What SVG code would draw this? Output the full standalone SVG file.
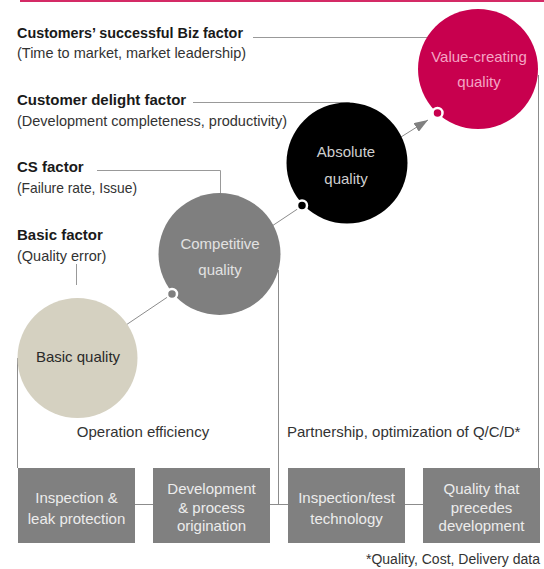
<svg xmlns="http://www.w3.org/2000/svg" width="544" height="569" viewBox="0 0 544 569">
<defs>
<style>
text{font-family:"Liberation Sans",Arial,sans-serif}
.h{font-weight:bold;font-size:15px;fill:#1a1a1a}
.s{font-size:14.5px;fill:#333}
.c{font-size:15px;text-anchor:middle}
.b{font-size:15px;fill:#ececec;text-anchor:middle}
.m{font-size:15px;fill:#333}
.ln{fill:none;stroke:#8c8c8c;stroke-width:1}
.lbl{fill:none;stroke:#999;stroke-width:1}
.box{fill:#808080}
</style>
<marker id="ah" viewBox="0 0 14 10" refX="14" refY="5" markerWidth="14" markerHeight="10" markerUnits="userSpaceOnUse" orient="auto">
<path d="M0,0 L14,5 L0,10 z" fill="#808080"/>
</marker>
</defs>
<rect x="20" y="0" width="524" height="2" fill="#d42a66"/>

<g id="connectors">
<polyline class="lbl" points="253,37.5 478,37.5"/>
<polyline class="lbl" points="193,102.5 349.5,102.5 349.5,106"/>
<polyline class="lbl" points="97,170.5 220.5,170.5 220.5,195"/>
<line class="lbl" x1="76.5" y1="264" x2="76.5" y2="285"/>
<line class="ln" x1="17.5" y1="358" x2="17.5" y2="468"/>
<line class="ln" x1="278.5" y1="270" x2="278.5" y2="504.5"/>
<line class="ln" x1="538.5" y1="75" x2="538.5" y2="468"/>
<line class="ln" x1="135" y1="504.5" x2="153" y2="504.5"/>
<line class="ln" x1="270" y1="504.5" x2="288" y2="504.5"/>
<line class="ln" x1="405" y1="504.5" x2="423" y2="504.5"/>
<line class="ln" x1="126" y1="325" x2="172" y2="294"/>
<line class="ln" x1="272" y1="226" x2="302" y2="206"/>
<line class="ln" x1="401" y1="137" x2="428" y2="120" marker-end="url(#ah)"/>
</g>

<g id="labels">
<text class="h" x="17" y="38" textLength="226" lengthAdjust="spacingAndGlyphs">Customers’ successful Biz factor</text>
<text class="s" x="17" y="58">(Time to market, market leadership)</text>
<text class="h" x="17" y="105">Customer delight factor</text>
<text class="s" x="17" y="126">(Development completeness, productivity)</text>
<text class="h" x="17" y="172">CS factor</text>
<text class="s" x="17" y="193" textLength="120" lengthAdjust="spacingAndGlyphs">(Failure rate, Issue)</text>
<text class="h" x="17" y="240">Basic factor</text>
<text class="s" x="17" y="261">(Quality error)</text>
</g>

<g id="value-creating">
<circle cx="478" cy="69" r="60" fill="#c8004e"/>
<text class="c" x="479" y="62" fill="#f4a5c4">Value-creating</text>
<text class="c" x="479" y="87" fill="#f4a5c4">quality</text>
<circle cx="437.5" cy="113" r="5" fill="#c8004e" stroke="#fff" stroke-width="2.5"/>
</g>

<g id="absolute">
<circle cx="347" cy="163" r="60.5" fill="#000"/>
<text class="c" x="346" y="157" fill="#cfcfcf">Absolute</text>
<text class="c" x="346" y="184" fill="#cfcfcf">quality</text>
<circle cx="302" cy="205.5" r="5" fill="#000" stroke="#fff" stroke-width="2.5"/>
</g>

<g id="competitive">
<circle cx="219.5" cy="254" r="61" fill="#7f7f7f"/>
<text class="c" x="220" y="249" fill="#e2e2e2">Competitive</text>
<text class="c" x="220" y="275" fill="#e2e2e2">quality</text>
<circle cx="172" cy="294" r="5" fill="#7f7f7f" stroke="#fff" stroke-width="2.5"/>
</g>

<g id="basic">
<circle cx="77.5" cy="358" r="60" fill="#d5d1c1"/>
<text class="c" x="78" y="362" fill="#2a2a2a">Basic quality</text>
</g>

<g id="axis-labels">
<text class="m" x="143" y="437" text-anchor="middle">Operation efficiency</text>
<text class="m" x="287" y="437">Partnership, optimization of Q/C/D*</text>
</g>

<g id="box-inspection">
<rect class="box" x="18" y="468" width="117" height="75"/>
<text class="b" x="76.5" y="503">Inspection &amp;</text>
<text class="b" x="76.5" y="524">leak protection</text>
</g>
<g id="box-development">
<rect class="box" x="153" y="468" width="117" height="75"/>
<text class="b" x="211.5" y="494">Development</text>
<text class="b" x="211.5" y="512.5">&amp; process</text>
<text class="b" x="211.5" y="531">origination</text>
</g>
<g id="box-test">
<rect class="box" x="288" y="468" width="117" height="75"/>
<text class="b" x="346.5" y="503">Inspection/test</text>
<text class="b" x="346.5" y="524">technology</text>
</g>
<g id="box-precedes">
<rect class="box" x="423" y="468" width="117" height="75"/>
<text class="b" x="481.5" y="494">Quality that</text>
<text class="b" x="481.5" y="512.5">precedes</text>
<text class="b" x="481.5" y="531">development</text>
</g>

<text x="540" y="564" font-size="14" fill="#333" text-anchor="end">*Quality, Cost, Delivery data</text>
</svg>
